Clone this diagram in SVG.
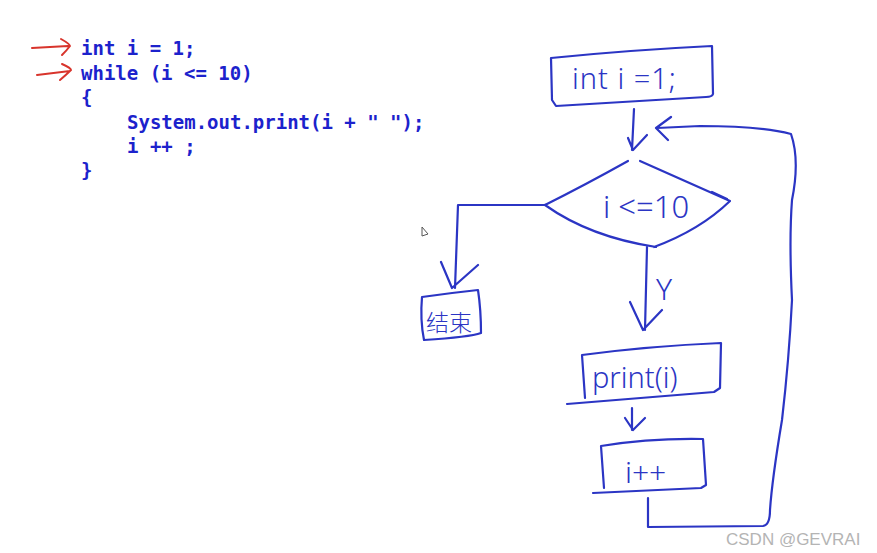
<svg xmlns="http://www.w3.org/2000/svg" width="877" height="553" viewBox="0 0 877 553">
<style>
.code{font-family:"DejaVu Sans Mono","Liberation Mono",monospace;font-size:19px;font-weight:bold;fill:#1c22cc}
.ink{fill:none;stroke:#2b35c4;stroke-width:2.2;stroke-linecap:round;stroke-linejoin:round}
.red{fill:none;stroke:#d8342c;stroke-width:2;stroke-linecap:round;stroke-linejoin:round}
.hand{font-family:"Noto Sans","DejaVu Sans",sans-serif;font-weight:300;fill:#2b35c4}
.cjk{font-family:"Noto Sans CJK SC",sans-serif;font-weight:300;fill:#2b35c4}
.wm{font-family:"Liberation Sans",Arial,sans-serif;font-size:17px;fill:#b4b4b4}
</style>
<rect width="877" height="553" fill="#ffffff"/>

<g id="code">
<text class="code" x="81" y="55">int i = 1;</text>
<text class="code" x="81" y="80">while (i &lt;= 10)</text>
<text class="code" x="81" y="104">{</text>
<text class="code" x="127" y="129">System.out.print(i + " ");</text>
<text class="code" x="127" y="153">i ++ ;</text>
<text class="code" x="81" y="177">}</text>
</g>

<g id="red-arrows">
<path class="red" d="M32 48 L68 46 M61 39 Q70 44 70 46 Q67 50 62 55"/>
<path class="red" d="M37 75 L70 71 M62 64 Q71 68 71 70 Q66 75 60 80"/>
</g>

<g id="node-init">
<path class="ink" d="M551 58 Q630 50 712 46 L713 94 Q712 97 706 97 L556 106 L552 100 Z"/>
<text class="hand" x="572" y="89" font-size="29" letter-spacing="1">int i =1;</text>
</g>

<g id="node-cond">
<path class="ink" d="M545 205 Q585 185 628 161 M640 161 L730 201 Q700 230 654 247 M656 247 Q590 237 545 205"/>
<path class="ink" d="M712 192 L727 199"/>
<text class="hand" x="603" y="218" font-size="31">i &lt;=10</text>
</g>

<g id="node-end">
<path class="ink" d="M422 297 Q450 293 478 290 Q481 310 481 333 Q470 337 424 340 Q420 320 422 297 Z"/>
<text class="cjk" x="426" y="331" font-size="23">结束</text>
</g>

<g id="node-print">
<path class="ink" d="M582 355 Q650 346 721 343 L720 388 L714 392 L567 404 M582 355 L585 398"/>
<text class="hand" x="592" y="388" font-size="29">print(i)</text>
</g>

<g id="node-inc">
<path class="ink" d="M601 446 Q650 438 703 439 L706 485 L701 488 L593 493 M601 446 L604 488"/>
<text class="hand" x="625" y="483" font-size="30">i++</text>
</g>

<g id="connectors">
<path class="ink" d="M634 109 L632 150 M628 138 L633 150 L647 135"/>
<path class="ink" d="M545 205 L458 205 L455 288 M441 262 L452 288 L478 265"/>
<path class="ink" d="M647 247 L645 330 M630 302 L643 330 L662 310"/>
<text class="hand" x="656" y="300" font-size="30">Y</text>
<path class="ink" d="M632 408 L632 430 M625 418 L633 430 L645 418"/>
<path class="ink" d="M648 498 L648 527 L763 526 Q770 525 770 510 Q772 480 782 420 Q789 360 792 300 Q789 240 792 200 Q800 160 791 134 Q760 126 700 126 L657 128 M671 117 L656 128 L668 140"/>
</g>

<g id="cursor">
<path d="M422 227 L422 236 L428 234 Z" fill="#fff" stroke="#555" stroke-width="1"/>
</g>

<text class="wm" x="726" y="545">CSDN @GEVRAI</text>
</svg>
